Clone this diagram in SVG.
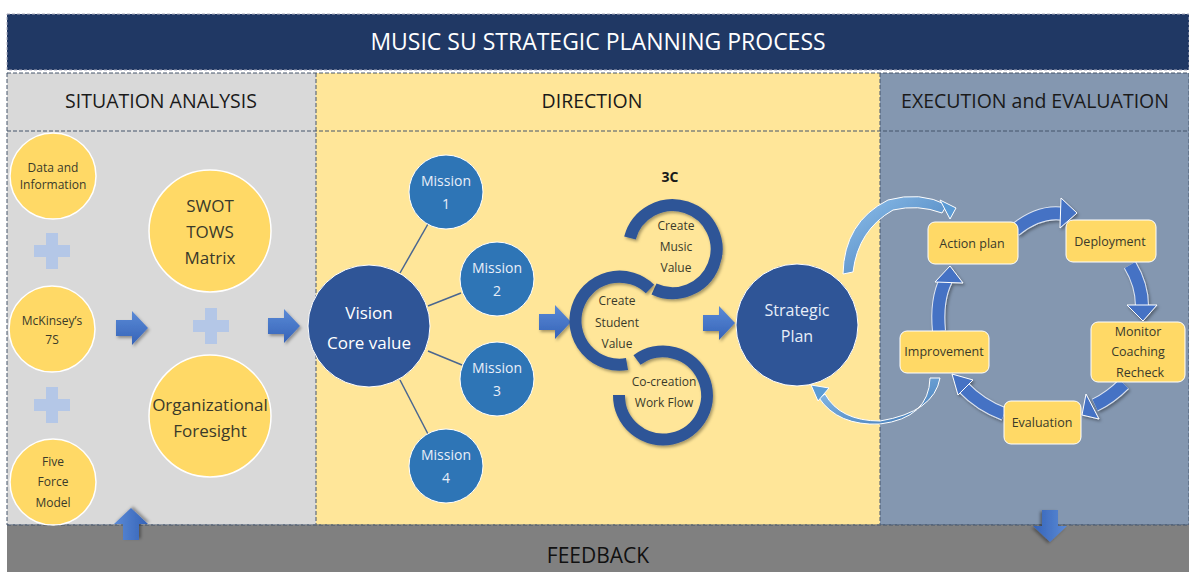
<svg xmlns="http://www.w3.org/2000/svg" width="1189" height="572" viewBox="0 0 1189 572">
<defs>
<linearGradient id="ag" x1="0" y1="0" x2="0" y2="1">
<stop offset="0" stop-color="#5b8ad6"/><stop offset="1" stop-color="#3563b8"/>
</linearGradient>
<linearGradient id="cg" x1="0" y1="0" x2="1" y2="1">
<stop offset="0" stop-color="#8fc0ec"/><stop offset="1" stop-color="#3f78b5"/>
</linearGradient>
<filter id="sh" x="-30%" y="-30%" width="160%" height="160%">
<feDropShadow dx="1.5" dy="2" stdDeviation="1.5" flood-color="#000" flood-opacity="0.35"/>
</filter>
<g id="rarrow"><polygon points="-16,-8 0,-8 0,-17 16,0 0,17 0,8 -16,8" fill="url(#ag)" filter="url(#sh)"/></g>
<g id="plus"><path d="M-6,-18 H6 V-6 H18 V6 H6 V18 H-6 V6 H-18 V-6 H-6 Z" fill="#b4c7e7"/></g>
</defs>
<style>
text{font-family:"Open Sans","Noto Sans","Liberation Sans",sans-serif;text-anchor:middle}
.hdr{font-size:19.5px;fill:#1a1a1a}
.ycir{fill:#ffd966;stroke:#fff;stroke-width:1.5}
.st{font-size:12px;fill:#3a3a2a}
.bt{font-size:17px;fill:#3a3a2a}
.mis{fill:#2e75b6;stroke:#fff;stroke-width:1}
.mt{font-size:14px;fill:#e8eef8}
.dk{fill:#2f5597;stroke:#fff;stroke-width:1}
.ring{fill:none;stroke:#2f5597;stroke-width:12}
.box{fill:#ffd966;stroke:#fff;stroke-width:1}
.bxt{font-size:12.5px;fill:#3a3a2a}
.cyco{fill:none;stroke:#dfe6f2;stroke-width:14}
.cyc{fill:none;stroke:#4472c4;stroke-width:12}
.dash{fill:none;stroke:#44546a;stroke-width:1;stroke-dasharray:4 2}
</style>

<!-- title -->
<g id="title">
<rect x="7" y="14" width="1182" height="56" fill="#203864" stroke="#aab" stroke-width="1" stroke-dasharray="3 2"/>
<text x="598" y="50" font-size="23" fill="#fff">MUSIC SU STRATEGIC PLANNING PROCESS</text>
</g>

<!-- panels -->
<g id="panels">
<rect x="7" y="73" width="309" height="452" fill="#d9d9d9"/>
<rect x="316" y="73" width="564" height="452" fill="#ffe699"/>
<rect x="880" y="73" width="309" height="452" fill="#8497b0"/>
<rect x="7" y="73" width="1182" height="452" class="dash"/>
<line x1="7" y1="131" x2="1189" y2="131" class="dash"/>
<line x1="316" y1="73" x2="316" y2="525" class="dash"/>
<line x1="880" y1="73" x2="880" y2="525" class="dash"/>
<text x="161" y="108" class="hdr">SITUATION ANALYSIS</text>
<text x="592" y="108" class="hdr">DIRECTION</text>
<text x="1035" y="108" class="hdr">EXECUTION and EVALUATION</text>
</g>

<!-- feedback -->
<g id="feedback">
<rect x="7" y="525" width="1182" height="47" fill="#808080"/>
<line x1="7" y1="525" x2="1189" y2="525" class="dash"/>
<text x="598" y="563" font-size="21" fill="#111">FEEDBACK</text>
</g>

<!-- connectors -->
<g id="connectors">
<line x1="400" y1="273" x2="428" y2="224" stroke="#4a6690" stroke-width="1.5"/>
<line x1="428" y1="306" x2="461" y2="293" stroke="#4a6690" stroke-width="1.5"/>
<line x1="428" y1="351" x2="462" y2="365" stroke="#4a6690" stroke-width="1.5"/>
<line x1="400" y1="380" x2="428" y2="434" stroke="#4a6690" stroke-width="1.5"/>
<use href="#plus" x="52" y="251"/>
<use href="#plus" x="52" y="405"/>
<use href="#plus" x="211" y="326"/>
<use href="#rarrow" x="132" y="328"/>
<use href="#rarrow" x="284" y="326"/>
<use href="#rarrow" x="555" y="322"/>
<use href="#rarrow" x="719" y="323"/>
<use href="#rarrow" transform="translate(131,524) rotate(-90)"/>
<use href="#rarrow" transform="translate(1050,526) rotate(90)"/>
<!-- cycle arrows -->
<g filter="url(#sh)">
<path d="M1015,230 Q1040,210 1064,214" class="cyco"/>
<path d="M1015,230 Q1040,210 1064,214" class="cyc"/>
<polygon points="1061,198 1077,213 1060,228" fill="#4472c4" stroke="#fff" stroke-width="1"/>
<path d="M1130,265 Q1142,285 1142,306" class="cyco"/>
<path d="M1130,265 Q1142,285 1142,306" class="cyc"/>
<polygon points="1127,305 1157,305 1143,321" fill="#4472c4" stroke="#fff" stroke-width="1"/>
<path d="M1124,384 Q1110,398 1095,405" class="cyco"/>
<path d="M1124,384 Q1110,398 1095,405" class="cyc"/>
<polygon points="1086,394 1099,419 1082,415" fill="#4472c4" stroke="#fff" stroke-width="1"/>
<path d="M1004,414 Q980,405 963,387" class="cyco"/>
<path d="M1004,414 Q980,405 963,387" class="cyc"/>
<polygon points="952,374 973,380 958,395" fill="#4472c4" stroke="#fff" stroke-width="1"/>
<path d="M939,331 Q936,300 946,280" class="cyco"/>
<path d="M939,331 Q936,300 946,280" class="cyc"/>
<polygon points="935,282 950,266 963,283" fill="#4472c4" stroke="#fff" stroke-width="1"/>
</g>
<!-- big curved arrows -->
<path d="M843,274 Q844,222 888,200 Q920,191 947,205 L942,213 Q918,204 893,210 Q858,230 853,272 Z" fill="url(#cg)" stroke="#fff" stroke-width="1"/>
<polygon points="940,200 956,208 950,219" fill="#5b9bd5" stroke="#fff" stroke-width="1"/>
<path d="M940,378 Q934,412 880,421 Q840,421 825,394 L819,398 Q838,426 880,424 Q929,418 930,378 Z" fill="url(#cg)" stroke="#fff" stroke-width="1"/>
<polygon points="811,385 829,388 818,401" fill="#5b9bd5" stroke="#fff" stroke-width="1"/>
</g>

<!-- situation nodes -->
<g id="n-data"><circle cx="53" cy="176" r="43" class="ycir"/><text x="53" y="172" class="st">Data and</text><text x="53" y="189" class="st">Information</text></g>
<g id="n-mck"><circle cx="52" cy="329" r="43" class="ycir"/><text x="52" y="325" class="st">McKinsey’s</text><text x="52" y="344" class="st">7S</text></g>
<g id="n-five"><circle cx="53" cy="482" r="43" class="ycir"/><text x="53" y="466" class="st">Five</text><text x="53" y="486" class="st">Force</text><text x="53" y="507" class="st">Model</text></g>
<g id="n-swot"><circle cx="210" cy="231" r="61" class="ycir"/><text x="210" y="212" class="bt">SWOT</text><text x="210" y="238" class="bt">TOWS</text><text x="210" y="264" class="bt">Matrix</text></g>
<g id="n-org"><circle cx="210" cy="416" r="61" class="ycir"/><text x="210" y="411" class="bt">Organizational</text><text x="210" y="437" class="bt">Foresight</text></g>

<!-- direction nodes -->
<g id="n-vision"><circle cx="369" cy="326" r="61" class="dk"/><text x="369" y="319" font-size="17" fill="#fff">Vision</text><text x="369" y="349" font-size="17" fill="#fff">Core value</text></g>
<g id="n-m1"><circle cx="446" cy="192" r="37" class="mis"/><text x="446" y="186" class="mt">Mission</text><text x="446" y="209" class="mt">1</text></g>
<g id="n-m2"><circle cx="497" cy="279" r="37" class="mis"/><text x="497" y="273" class="mt">Mission</text><text x="497" y="296" class="mt">2</text></g>
<g id="n-m3"><circle cx="497" cy="379" r="37" class="mis"/><text x="497" y="373" class="mt">Mission</text><text x="497" y="396" class="mt">3</text></g>
<g id="n-m4"><circle cx="446" cy="466" r="37" class="mis"/><text x="446" y="460" class="mt">Mission</text><text x="446" y="483" class="mt">4</text></g>

<g id="n-3c"><text x="670" y="182" font-size="14" font-weight="bold" fill="#1a1a1a">3C</text></g>
<g id="n-music" filter="url(#sh)">
<path d="M630,238 A44,44 0 1 1 654,289" class="ring"/>
</g>
<g id="n-student" filter="url(#sh)">
<path d="M650,289 A44,44 0 1 0 627,364" class="ring"/>
</g>
<g id="n-cocreation" filter="url(#sh)">
<path d="M637,360 A44,44 0 1 1 619,395" class="ring"/>
</g>
<g id="n-3c-text">
<text x="676" y="230" class="st">Create</text><text x="676" y="251" class="st">Music</text><text x="676" y="272" class="st">Value</text>
<text x="617" y="305" class="st">Create</text><text x="617" y="327" class="st">Student</text><text x="617" y="348" class="st">Value</text>
<text x="664" y="386" class="st">Co-creation</text><text x="664" y="407" class="st">Work Flow</text>
</g>

<g id="n-strategic"><circle cx="797" cy="325" r="61" class="dk"/><text x="797" y="316" font-size="16" fill="#e8eef8">Strategic</text><text x="797" y="342" font-size="16" fill="#e8eef8">Plan</text></g>

<!-- execution nodes -->
<g id="n-action"><rect x="928" y="222" width="90" height="42" rx="7" class="box"/><text x="972" y="248" class="bxt">Action plan</text></g>
<g id="n-deploy"><rect x="1066" y="220" width="90" height="42" rx="7" class="box"/><text x="1110" y="246" class="bxt">Deployment</text></g>
<g id="n-monitor"><rect x="1091" y="322" width="94" height="60" rx="7" class="box"/><text x="1138" y="336" class="bxt">Monitor</text><text x="1138" y="356" class="bxt">Coaching</text><text x="1140" y="377" class="bxt">Recheck</text></g>
<g id="n-eval"><rect x="1004" y="401" width="77" height="43" rx="7" class="box"/><text x="1042" y="427" class="bxt">Evaluation</text></g>
<g id="n-improve"><rect x="900" y="331" width="89" height="42" rx="7" class="box"/><text x="944" y="356" class="bxt">Improvement</text></g>
</svg>
